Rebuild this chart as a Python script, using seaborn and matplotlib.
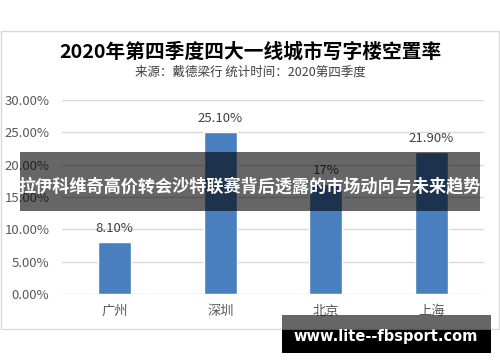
import matplotlib
matplotlib.use('Agg')
import matplotlib.pyplot as plt
import matplotlib.patches as mpatches
import seaborn as sns
import pandas as pd

# data
cities = ['广州', '深圳', '北京', '上海']
vacancy = [8.10, 25.10, 17.0, 21.90]
value_labels = ['8.10%', '25.10%', '17%', '21.90%']
yticks = [0, 5, 10, 15, 20, 25, 30]
ytick_labels = ['0.00%', '5.00%', '10.00%', '15.00%', '20.00%', '25.00%', '30.00%']

title = '2020年第四季度四大一线城市写字楼空置率'
subtitle = '来源：戴德梁行 统计时间：2020第四季度'
banner = '拉伊科维奇高价转会沙特联赛背后透露的市场动向与未来趋势'
site = 'www.lite--fbsport.com'

sns.set_style('white')
plt.rcParams['font.family'] = ['Noto Sans CJK SC', 'DejaVu Sans']

W, H = 500, 362
fig = plt.figure(figsize=(W / 100, H / 100), dpi=100)

def box(x0, y0, x1, y1):
    # pixel box (top-left origin) -> figure fraction
    return (x0 / W, 1 - y1 / H), (x1 - x0) / W, (y1 - y0) / H

# chart frame
xy, w, h = box(1, 31, 499, 329)
fig.add_artist(mpatches.Rectangle(xy, w, h, transform=fig.transFigure,
                                  facecolor='white', edgecolor='#d9d9d9', lw=1, zorder=0))

ax = fig.add_axes([62 / W, 1 - 294 / H, (484 - 62) / W, (294 - 100) / H])
ax.set_facecolor('none')
df = pd.DataFrame({'city': cities, 'rate': vacancy})
sns.barplot(data=df, x='city', y='rate', color='#4a7fbf', width=0.31, saturation=1, ax=ax, zorder=2)
ax.bar_label(ax.containers[0], labels=value_labels, padding=5, fontsize=9.5, color='#404040')
ax.set_ylim(0, 30)
ax.set_yticks(yticks)
ax.set_yticklabels(ytick_labels)
ax.set_xlim(-0.5, 3.5)
ax.yaxis.grid(True, color='#d9d9d9', lw=1, zorder=0)
ax.set_axisbelow(True)
for s in ax.spines.values():
    s.set_visible(False)
ax.tick_params(axis='y', length=0, pad=9, labelsize=9.5, labelcolor='#595959')
ax.tick_params(axis='x', length=0, pad=8, labelsize=9.5, labelcolor='#595959')
ax.set_xlabel('')
ax.set_ylabel('')

fig.text(0.5, 1 - 52 / H, title, ha='center', va='center', fontsize=14.2, fontweight='bold', color='black')
fig.text(0.5, 1 - 72 / H, subtitle, ha='center', va='center', fontsize=9, color='#404040')

# overlay banner
xy, w, h = box(20, 152, 480, 211)
fig.add_artist(mpatches.Rectangle(xy, w, h, transform=fig.transFigure,
                                  facecolor='black', alpha=0.6, lw=0, zorder=5))
fig.text(0.5, 1 - 186 / H, banner, ha='center', va='center', fontsize=12.3,
         fontweight='bold', color='white', zorder=6)

# watermark
xy, w, h = box(282, 315, 491, 353)
fig.add_artist(mpatches.Rectangle(xy, w, h, transform=fig.transFigure,
                                  facecolor='black', alpha=0.6, lw=0, zorder=5))
xy, w, h = box(282, 330, 491, 353)
fig.add_artist(mpatches.Rectangle(xy, w, h, transform=fig.transFigure,
                                  facecolor='black', lw=0, zorder=5))
fig.text(386 / W, 1 - 337 / H, site, ha='center', va='center', fontsize=10.5,
         fontweight='bold', color='white', family=['DejaVu Sans'], zorder=6)

fig.savefig('out.png', dpi=100)
